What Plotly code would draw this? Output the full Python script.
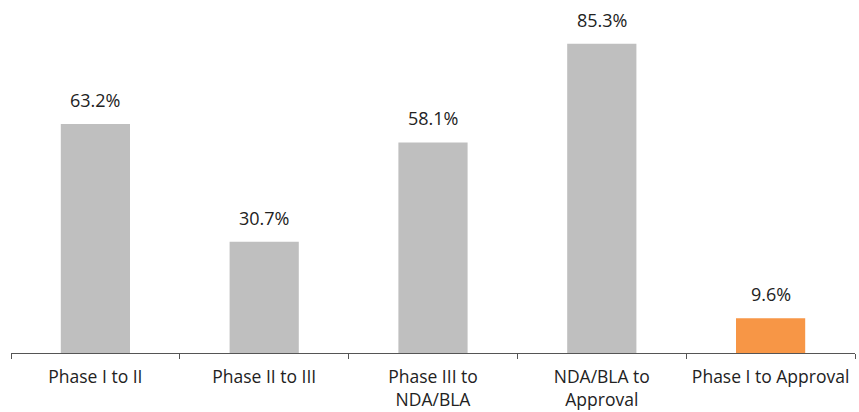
import plotly.graph_objects as go

categories = ["Phase I to II", "Phase II to III", "Phase III to<br>NDA/BLA", "NDA/BLA to<br>Approval", "Phase I to Approval"]
values = [63.2, 30.7, 58.1, 85.3, 9.6]
labels = ["63.2%", "30.7%", "58.1%", "85.3%", "9.6%"]
colors = ["#BFBFBF", "#BFBFBF", "#BFBFBF", "#BFBFBF", "#F79646"]

FONT = "Open Sans, sans-serif"

fig = go.Figure(go.Bar(x=categories, y=values, marker=dict(color=colors, line=dict(width=0)),
                       width=0.41, hoverinfo="skip"))

for c, v, t in zip(categories, values, labels):
    fig.add_annotation(x=c, y=v, text=t, showarrow=False, yanchor="bottom", yshift=10,
                       font=dict(family=FONT, size=18, color="#222222"))

fig.update_layout(
    width=859, height=412,
    margin=dict(l=11, r=4, t=0, b=59),
    plot_bgcolor="white", paper_bgcolor="white",
    showlegend=False,
    xaxis=dict(showline=True, linecolor="#555555", linewidth=1, ticks="outside", tickson="boundaries",
               ticklen=5, tickcolor="#555555", tickfont=dict(family=FONT, size=17.5, color="#222222"),
               ticklabelstandoff=8, showgrid=False),
    yaxis=dict(range=[0, 97.4], visible=False, showgrid=False),
)

fig.write_html("out.html")
